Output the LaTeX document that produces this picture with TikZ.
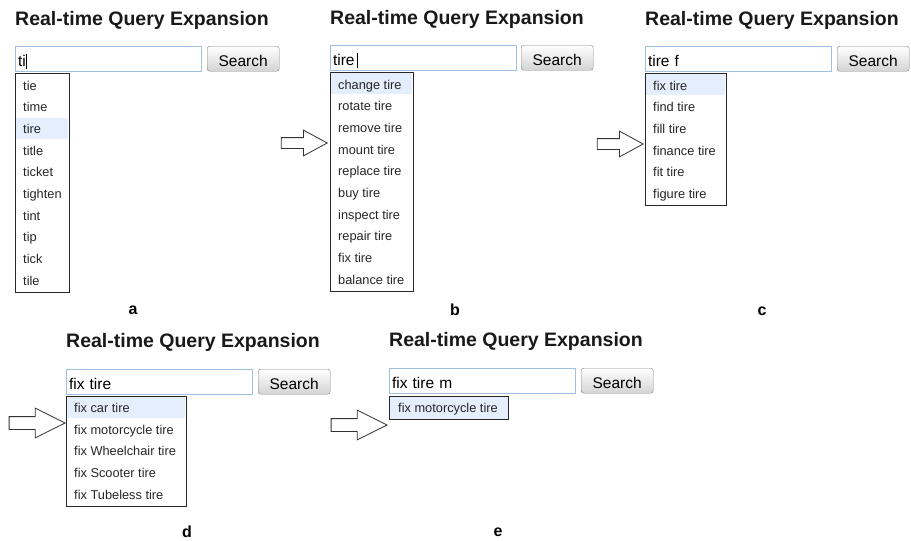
\documentclass[tikz,border=0pt]{standalone}
\usepackage{fontspec}
\setmainfont{Liberation Sans}
\usetikzlibrary{shapes.arrows}

\definecolor{fieldblue}{RGB}{160,192,224}
\definecolor{pickblue}{RGB}{228,238,252}
\definecolor{listline}{RGB}{40,40,40}

% text cursor in the query field
\newcommand{\caret}{\rule[-2.5pt]{0.8pt}{15pt}}

\begin{document}
\begin{tikzpicture}[x=1pt,y=-1pt,
    heading/.style={anchor=base west, inner sep=0pt, text=black!90,
      font=\bfseries\fontsize{19.5}{22}\selectfont},
    field/.style={draw=fieldblue, line width=1pt, anchor=north west,
      minimum height=25pt, text width=181pt, inner xsep=2.5pt, inner ysep=0pt,
      align=left, text height=15pt, text depth=0pt,
      font=\fontsize{15.5}{18}\selectfont},
    searchbtn/.style={draw=black!50, rounded corners=2.5pt, anchor=north west,
      minimum width=72pt, minimum height=25pt, top color=white,
      bottom color=black!17, inner sep=0pt, text height=15pt, text depth=0pt,
      font=\fontsize{15.5}{18}\selectfont},
    dropdown/.style={draw=listline, line width=1.2pt, anchor=north west,
      inner sep=0pt},
    pick/.style={fill=pickblue, anchor=north west, inner sep=0pt,
      minimum height=21pt},
    entry/.style={anchor=base west, inner sep=0pt, text=black!85,
      font=\fontsize{12.8}{14}\selectfont},
    tag/.style={font=\bfseries\fontsize{16}{18}\selectfont},
    pointer/.style={single arrow, draw=black!80, fill=white, line width=0.8pt,
      anchor=tip, inner xsep=0pt, inner ysep=5pt, single arrow head extend=7.5pt,
      single arrow tip angle=57, minimum height=46pt},
    bigpointer/.style={pointer, inner ysep=6pt, single arrow head extend=8.5pt,
      single arrow tip angle=53, minimum height=56pt}]

  \useasboundingbox (0,0) rectangle (911,541);

  % a: typing "ti"
  \begin{scope}[shift={(15,46)}]
    \node[heading] (headA) at (0,-21) {Real-time Query Expansion};
    \node[field] (fieldA) at (0,0) {ti\caret};
    \node[searchbtn] (btnA) at (192,0) {Search};
    \node[pick, minimum width=52pt] (pickA) at (1,71.4) {};
    \foreach \w [count=\i] in {tie,time,tire,title,ticket,tighten,tint,tip,tick,tile}
      \node[entry] (a\i) at (8,{44+21.7*(\i-1)}) {\w};
    \node[dropdown, minimum width=54pt, minimum height=219pt] (listA) at (0,27) {};
  \end{scope}

  % b: "tire "
  \begin{scope}[shift={(330,45)}]
    \node[heading] (headB) at (0,-21) {Real-time Query Expansion};
    \node[field] (fieldB) at (0,0) {tire\,\caret};
    \node[searchbtn] (btnB) at (191,0) {Search};
    \node[pick, minimum width=81pt] (pickB) at (1,28) {};
    \foreach \w [count=\i] in {change tire,rotate tire,remove tire,mount tire,
        replace tire,buy tire,inspect tire,repair tire,fix tire,balance tire}
      \node[entry] (b\i) at (8,{44+21.7*(\i-1)}) {\w};
    \node[dropdown, minimum width=83pt, minimum height=219pt] (listB) at (0,27) {};
  \end{scope}

  % c: "tire f"
  \begin{scope}[shift={(645,46)}]
    \node[heading] (headC) at (0,-21) {Real-time Query Expansion};
    \node[field] (fieldC) at (0,0) {tire f};
    \node[searchbtn] (btnC) at (192,0) {Search};
    \node[pick, minimum width=79pt] (pickC) at (1,28) {};
    \foreach \w [count=\i] in {fix tire,find tire,fill tire,finance tire,fit tire,figure tire}
      \node[entry] (c\i) at (8,{44+21.7*(\i-1)}) {\w};
    \node[dropdown, minimum width=81pt, minimum height=132pt] (listC) at (0,27) {};
  \end{scope}

  % d: "fix tire"
  \begin{scope}[shift={(66,369)}]
    \node[heading] (headD) at (0,-22) {Real-time Query Expansion};
    \node[field] (fieldD) at (0,0) {fix tire};
    \node[searchbtn] (btnD) at (192,0) {Search};
    \node[pick, minimum width=118pt] (pickD) at (1,28) {};
    \foreach \w [count=\i] in {fix car tire,fix motorcycle tire,fix Wheelchair tire,
        fix Scooter tire,fix Tubeless tire}
      \node[entry] (d\i) at (8,{43.5+21.7*(\i-1)}) {\w};
    \node[dropdown, minimum width=120pt, minimum height=110pt] (listD) at (0,27) {};
  \end{scope}

  % e: "fix tire m"
  \begin{scope}[shift={(389,368)}]
    \node[heading] (headE) at (0,-21.5) {Real-time Query Expansion};
    \node[field] (fieldE) at (0,0) {fix tire m};
    \node[searchbtn] (btnE) at (192,0) {Search};
    \node[dropdown, fill=pickblue, minimum width=119pt, minimum height=23pt] (listE) at (0,28) {};
    \node[entry] (e1) at (9,44.5) {fix motorcycle tire};
  \end{scope}

  % arrows between the steps
  \node[pointer] (arrB) at (328,143) {};
  \node[pointer] (arrC) at (644,144) {};
  \node[bigpointer] (arrD) at (66,423) {};
  \node[bigpointer] (arrE) at (388,425) {};

  % step letters
  \node[tag] (tagA) at (133,310) {a};
  \node[tag] (tagB) at (455,310) {b};
  \node[tag] (tagC) at (762,311) {c};
  \node[tag] (tagD) at (187,532) {d};
  \node[tag] (tagE) at (498,532) {e};
\end{tikzpicture}
\end{document}
